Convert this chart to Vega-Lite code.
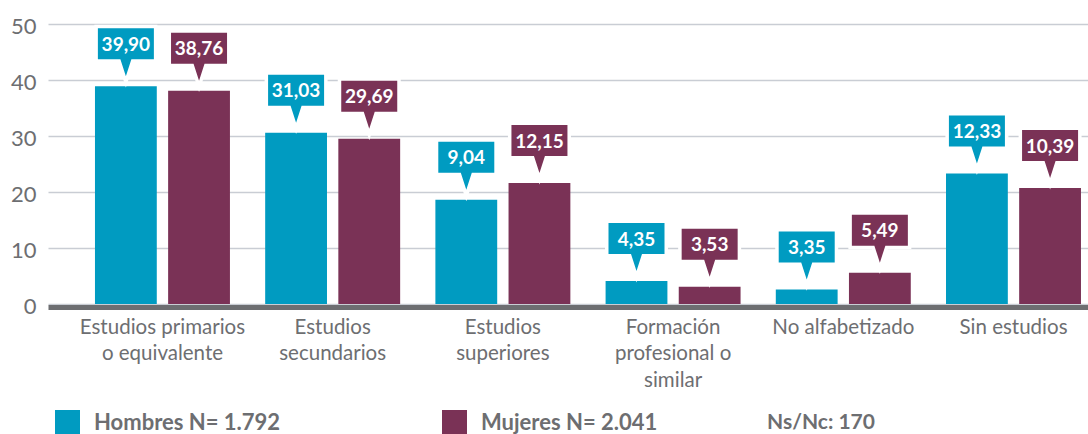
{
  "$schema": "https://vega.github.io/schema/vega-lite/v6.json",
  "autosize": "none",
  "width": 1040,
  "height": 280,
  "padding": {"left": 48, "top": 24, "right": 0, "bottom": 130},
  "background": "white",
  "config": {"view": {"stroke": null}},
  "data": {
    "values": [
      {"nivel": "Estudios primarios o equivalente", "sexo": "Hombres", "valor": 38.9, "etiqueta": "39,90"},
      {"nivel": "Estudios primarios o equivalente", "sexo": "Mujeres", "valor": 38.1, "etiqueta": "38,76"},
      {"nivel": "Estudios secundarios", "sexo": "Hombres", "valor": 30.6, "etiqueta": "31,03"},
      {"nivel": "Estudios secundarios", "sexo": "Mujeres", "valor": 29.5, "etiqueta": "29,69"},
      {"nivel": "Estudios superiores", "sexo": "Hombres", "valor": 18.6, "etiqueta": "9,04"},
      {"nivel": "Estudios superiores", "sexo": "Mujeres", "valor": 21.6, "etiqueta": "12,15"},
      {"nivel": "Formación profesional o similar", "sexo": "Hombres", "valor": 4.1, "etiqueta": "4,35"},
      {"nivel": "Formación profesional o similar", "sexo": "Mujeres", "valor": 3.1, "etiqueta": "3,53"},
      {"nivel": "No alfabetizado", "sexo": "Hombres", "valor": 2.6, "etiqueta": "3,35"},
      {"nivel": "No alfabetizado", "sexo": "Mujeres", "valor": 5.6, "etiqueta": "5,49"},
      {"nivel": "Sin estudios", "sexo": "Hombres", "valor": 23.3, "etiqueta": "12,33"},
      {"nivel": "Sin estudios", "sexo": "Mujeres", "valor": 20.7, "etiqueta": "10,39"}
    ]
  },
  "encoding": {
    "x": {
      "field": "nivel",
      "type": "nominal",
      "sort": ["Estudios primarios o equivalente", "Estudios secundarios", "Estudios superiores", "Formación profesional o similar", "No alfabetizado", "Sin estudios"],
      "scale": {"paddingInner": 0.207, "paddingOuter": 0.1586, "align": 0.87},
      "axis": {
        "title": null,
        "domain": true,
        "domainColor": "#6D6E71",
        "domainWidth": 5,
        "offset": 3,
        "ticks": false,
        "grid": false,
        "labelAngle": 0,
        "labelFont": "Lato",
        "labelFontSize": 20.5,
        "labelColor": "#6D6E71",
        "labelPadding": 10,
        "labelLineHeight": 26.5,
        "labelLimit": 300,
        "labelExpr": "datum.value == 'Estudios primarios o equivalente' ? ['Estudios primarios', 'o equivalente'] : datum.value == 'Estudios secundarios' ? ['Estudios', 'secundarios'] : datum.value == 'Estudios superiores' ? ['Estudios', 'superiores'] : datum.value == 'Formación profesional o similar' ? ['Formación', 'profesional o', 'similar'] : datum.value"
      }
    },
    "xOffset": {
      "field": "sexo",
      "type": "nominal",
      "sort": ["Hombres", "Mujeres"],
      "scale": {"paddingInner": 0.155, "paddingOuter": 0}
    },
    "y": {
      "field": "valor",
      "type": "quantitative",
      "scale": {"domain": [0, 50], "nice": false},
      "axis": {
        "title": null,
        "values": [0, 10, 20, 30, 40, 50],
        "domain": false,
        "ticks": false,
        "grid": true,
        "gridColor": "#C9CDD4",
        "gridWidth": 1.3,
        "labelFont": "Lato",
        "labelFontSize": 22,
        "labelColor": "#6D6E71",
        "labelPadding": 12,
        "labelOffset": 2
      }
    }
  },
  "layer": [
    {
      "mark": {"type": "bar"},
      "encoding": {
        "color": {
          "field": "sexo",
          "type": "nominal",
          "scale": {"domain": ["Hombres", "Mujeres"], "range": ["#009BC1", "#7A3256"]},
          "legend": {
            "orient": "none",
            "legendX": 7,
            "legendY": 386,
            "padding": 0,
            "direction": "horizontal",
            "title": "Ns/Nc: 170",
            "titleOrient": "right",
            "titleFont": "Lato",
            "titleFontSize": 21,
            "titleFontWeight": "bold",
            "titleColor": "#6D6E71",
            "titlePadding": 110,
            "labelFont": "Lato",
            "labelFontSize": 22,
            "labelFontWeight": "bold",
            "labelColor": "#6D6E71",
            "labelOffset": 14,
            "labelLimit": 400,
            "symbolType": "square",
            "symbolSize": 625,
            "symbolStrokeWidth": 0,
            "symbolOpacity": 1,
            "columnPadding": 161,
            "labelExpr": "datum.label == 'Hombres' ? 'Hombres N= 1.792' : 'Mujeres N= 2.041'"
          }
        }
      }
    },
    {
      "mark": {
        "type": "point",
        "shape": "M-0.9333,-1.6 L0.9333,-1.6 L0.9333,-0.5667 L0.1833,-0.5667 L0,0 L-0.1833,-0.5667 L-0.9333,-0.5667 Z",
        "size": 3600,
        "filled": true,
        "fill": "white",
        "stroke": "white",
        "strokeWidth": 7,
        "opacity": 1,
        "yOffset": -10
      }
    },
    {
      "mark": {
        "type": "point",
        "shape": "M-0.9333,-1.6 L0.9333,-1.6 L0.9333,-0.5667 L0.1833,-0.5667 L0,0 L-0.1833,-0.5667 L-0.9333,-0.5667 Z",
        "size": 3600,
        "filled": true,
        "strokeWidth": 0,
        "opacity": 1,
        "yOffset": -10
      },
      "encoding": {
        "color": {"field": "sexo", "type": "nominal", "legend": null}
      }
    },
    {
      "mark": {
        "type": "text",
        "font": "Lato",
        "fontWeight": "bold",
        "fontSize": 19,
        "color": "white",
        "baseline": "alphabetic",
        "yOffset": -35.5
      },
      "encoding": {
        "text": {"field": "etiqueta"}
      }
    }
  ]
}
